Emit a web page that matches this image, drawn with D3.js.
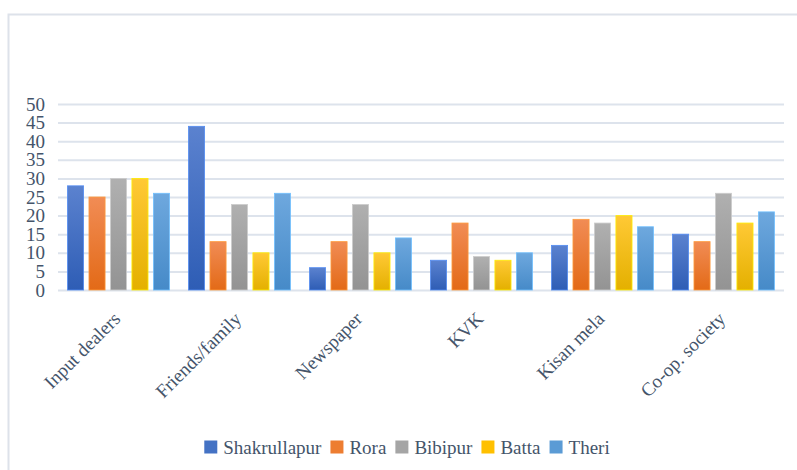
<!DOCTYPE html>
<html><head><meta charset="utf-8">
<script src="https://cdn.jsdelivr.net/npm/d3@7"></script>
<style>body{margin:0;background:#fff}svg{display:block}svg text{font-family:"Liberation Serif","Times New Roman",serif}</style>
</head><body>
<svg id="c" width="797" height="470"></svg>
<script>
const categories = ["Input dealers","Friends/family","Newspaper","KVK","Kisan mela","Co-op. society"];
const seriesNames = ["Shakrullapur","Rora","Bibipur","Batta","Theri"];
const shakrullapur = [28,44,6,8,12,15];
const rora = [25,13,13,18,19,13];
const bibipur = [30,23,23,9,18,26];
const batta = [30,10,10,8,20,18];
const theri = [26,26,14,10,17,21];
const yTicks = [0,5,10,15,20,25,30,35,40,45,50];
const seriesValues = [shakrullapur, rora, bibipur, batta, theri];
const colors = ["#4472c4","#ed7d31","#a5a5a5","#ffc000","#5b9bd5"];
const topCols = ["#5b82cf","#f18c55","#b0b0b0","#ffc935","#6ea8de"];
const botCols = ["#2e5db5","#e36a17","#939393","#e4b000","#468ac8"];

(function(){
const svg = d3.select("#c");
const font = '"Liberation Serif","Times New Roman",serif';
const textCol = "#44546a";

// frame
svg.append("rect").attr("x",8.5).attr("y",14.5).attr("width",820).attr("height",520)
  .attr("fill","none").attr("stroke","#dde2ea").attr("stroke-width",2);

const defs = svg.append("defs");
colors.forEach((c,i)=>{
  const g = defs.append("linearGradient").attr("id","g"+i).attr("x1",0).attr("y1",0).attr("x2",0).attr("y2",1);
  g.append("stop").attr("offset","0%").attr("stop-color",topCols[i]);
  g.append("stop").attr("offset","100%").attr("stop-color",botCols[i]);
});

const pl = 58, pr = 784, pt = 104, pb = 290;
const x0 = d3.scaleBand().domain(categories).range([pl,pr]).paddingInner(0).paddingOuter(0);
const x1 = d3.scaleBand().domain(seriesNames).range([9.5, x0.bandwidth()-9.5]).paddingInner(0.25).paddingOuter(0);
const y = d3.scaleLinear().domain([0,50]).range([pb,pt]);

// grid
const yAxis = d3.axisLeft(y).tickValues(yTicks).tickSize(-(pr-pl)).tickPadding(13).tickFormat(d3.format("d"));
const ga = svg.append("g").attr("transform",`translate(${pl},0)`).call(yAxis);
ga.attr("font-family",null);
ga.select(".domain").remove();
ga.selectAll(".tick line").attr("stroke","#dde3ec").attr("stroke-width",2);
ga.selectAll(".tick text").attr("fill",textCol).style("font-family",font).style("font-size","19px");

// bars
const groups = svg.append("g").selectAll("g").data(categories).join("g")
  .attr("transform",d=>`translate(${x0(d)},0)`);
groups.selectAll("rect").data((d,ci)=>seriesNames.map((s,si)=>({s,si,v:seriesValues[si][ci]})))
  .join("rect")
  .attr("x",d=>x1(d.s)).attr("width",x1.bandwidth())
  .attr("y",d=>y(d.v)).attr("height",d=>y(0)-y(d.v))
  .attr("fill",d=>`url(#g${d.si})`)
  .attr("stroke",d=>d3.color(colors[d.si]).brighter(0.6)).attr("stroke-width",0.8);

// x labels
const xAxis = d3.axisBottom(x0).tickSize(0).tickPadding(0);
const gx = svg.append("g").attr("transform",`translate(0,${pb})`).call(xAxis);
gx.attr("font-family",null);
gx.select(".domain").remove();
gx.selectAll(".tick text")
  .attr("fill",textCol).style("font-family",font).style("font-size","19px")
  .attr("text-anchor","end").attr("dy",0).attr("y",0)
  .attr("transform","translate(3,30) rotate(-45)");

// legend
const leg = svg.append("g");
let xs = 0;
const items = leg.selectAll("g").data(seriesNames).join("g");
items.append("rect").attr("x",0).attr("y",-6.5).attr("width",13).attr("height",13).attr("fill",(d,i)=>colors[i]);
items.append("text").attr("x",19).attr("y",0).attr("dy","0.35em").text(d=>d)
  .attr("fill",textCol).style("font-family",font).style("font-size","19px");
items.each(function(){
  const g = d3.select(this);
  g.attr("transform",`translate(${xs},0)`);
  xs += 19 + g.select("text").node().getComputedTextLength() + 9;
});
const total = xs - 9;
leg.attr("transform",`translate(${407 - total/2},447)`);
})();
</script>
</body></html>
